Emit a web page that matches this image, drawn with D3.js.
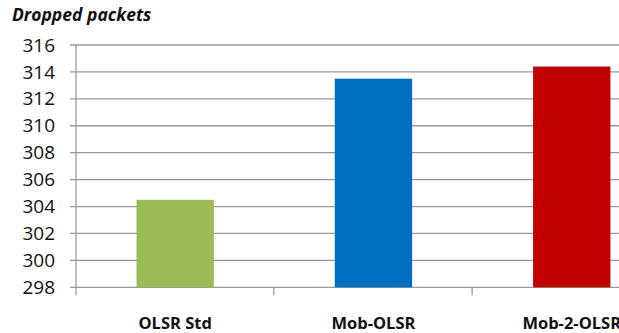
<!DOCTYPE html>
<html>
<head>
<meta charset="utf-8">
<script src="https://cdn.jsdelivr.net/npm/d3@7"></script>
<style>
  html, body { margin: 0; padding: 0; background: #fff; }
  svg { display: block; }
  text { font-family: "Open Sans", sans-serif; fill: #111; }
</style>
</head>
<body>
<svg id="chart" width="619" height="333"></svg>
<script>
// Dropped packets per routing protocol variant
const categories = ["OLSR Std", "Mob-OLSR", "Mob-2-OLSR"];
const droppedPackets = [304.5, 313.5, 314.4];
const barColors = ["#9BBB59", "#0070C0", "#C00000"];
const yTicks = [298, 300, 302, 304, 306, 308, 310, 312, 314, 316];

const svg = d3.select("#chart");
const plotLeft = 76, plotTop = 45, plotBottom = 287.3;
const bandWidth = 198.3;

const x = d3.scaleBand()
  .domain(categories)
  .range([plotLeft, plotLeft + bandWidth * categories.length])
  .paddingInner(0.61)
  .paddingOuter(0.305);

const y = d3.scaleLinear().domain([298, 316]).range([plotBottom, plotTop]);

// horizontal gridlines
svg.append("g")
  .selectAll("line")
  .data(yTicks)
  .join("line")
  .attr("x1", plotLeft - 6)
  .attr("x2", 619)
  .attr("y1", d => y(d))
  .attr("y2", d => y(d))
  .attr("stroke", "#9a9a9a")
  .attr("stroke-width", 1.3);

// y axis labels
svg.append("g")
  .selectAll("text")
  .data(yTicks)
  .join("text")
  .attr("x", 55)
  .attr("y", d => y(d))
  .attr("dy", "0.35em")
  .attr("text-anchor", "end")
  .style("font-size", "19px")
  .text(d => d);

// bars
svg.append("g")
  .selectAll("rect")
  .data(categories)
  .join("rect")
  .attr("x", d => x(d))
  .attr("width", x.bandwidth())
  .attr("y", (d, i) => y(droppedPackets[i]))
  .attr("height", (d, i) => plotBottom - y(droppedPackets[i]))
  .attr("fill", (d, i) => barColors[i]);

// vertical axis line
svg.append("line")
  .attr("x1", plotLeft).attr("x2", plotLeft)
  .attr("y1", plotTop).attr("y2", plotBottom + 8)
  .attr("stroke", "#9a9a9a")
  .attr("stroke-width", 1.3);

// category separators
svg.append("g")
  .selectAll("line")
  .data(categories.slice(1))
  .join("line")
  .attr("x1", d => x(d) - x.step() * x.paddingInner() / 2 - 0.5)
  .attr("x2", d => x(d) - x.step() * x.paddingInner() / 2 - 0.5)
  .attr("y1", plotBottom)
  .attr("y2", plotBottom + 8)
  .attr("stroke", "#9a9a9a")
  .attr("stroke-width", 1.3);

// category labels
svg.append("g")
  .selectAll("text")
  .data(categories)
  .join("text")
  .attr("x", d => x(d) + x.bandwidth() / 2)
  .attr("y", 328.5)
  .attr("text-anchor", "middle")
  .style("font-size", "16.5px")
  .style("font-weight", "bold")
  .text(d => d);

// title
svg.append("text")
  .attr("x", 12)
  .attr("y", 20.5)
  .style("font-size", "17.5px")
  .style("font-weight", "bold")
  .style("font-style", "italic")
  .text("Dropped packets");
</script>
</body>
</html>
